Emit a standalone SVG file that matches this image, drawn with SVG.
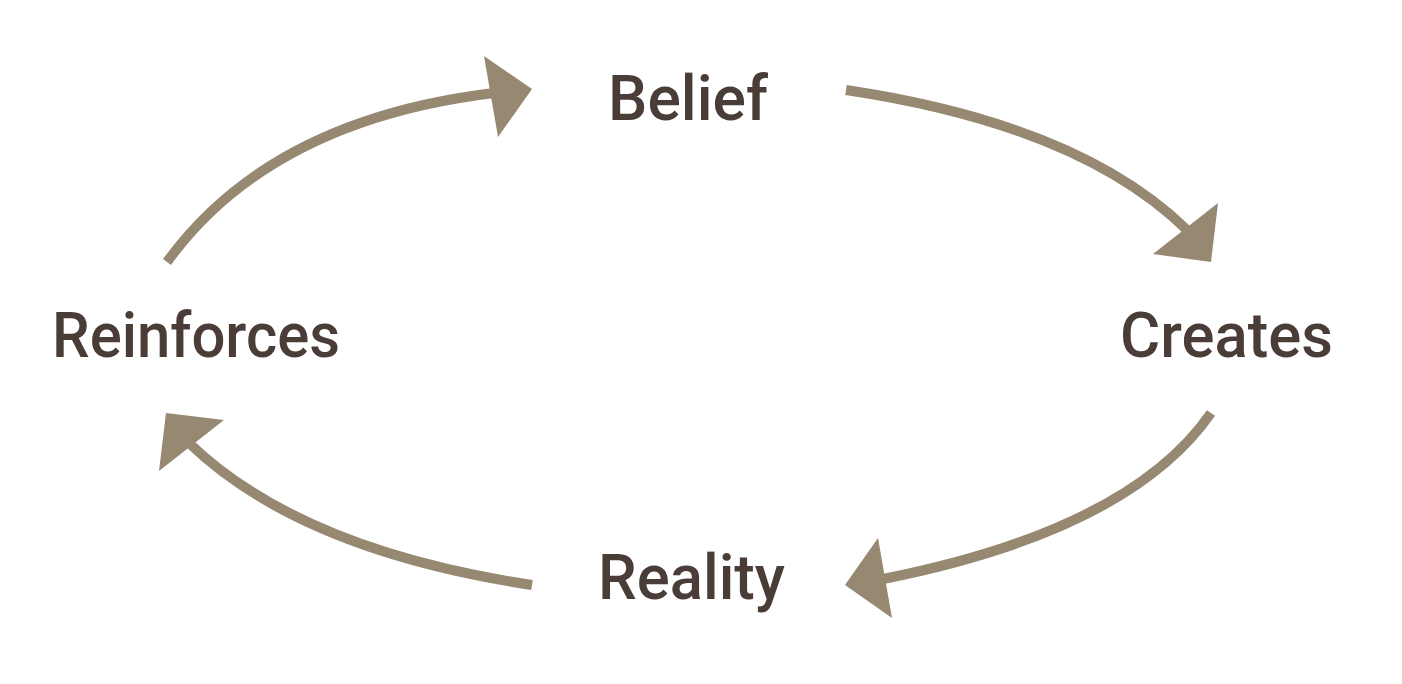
<svg xmlns="http://www.w3.org/2000/svg" width="1402" height="684" viewBox="0 0 1402 684">
<style>
.lbl{font-family:Roboto,"Liberation Sans",sans-serif;font-weight:500;font-size:63px;fill:#4a3d38}
.con{fill:none;stroke:#978872;stroke-width:10}
.head{fill:#978872}
</style>
<rect width="1402" height="684" fill="#ffffff"/>
<g id="connectors">
<path class="con" d="M167,262 Q270,120 494,93"/>
<polygon class="head" points="484,56 532,89 498,137"/>
<path class="con" d="M846,90 Q1080,125 1187,230"/>
<polygon class="head" points="1218,203 1211,262 1153,254"/>
<path class="con" d="M1211,413 Q1130,530 883,579"/>
<polygon class="head" points="878,538 845,585 892,618"/>
<path class="con" d="M532,585 Q300,550 189,443"/>
<polygon class="head" points="166,413 224,420 159,471"/>
</g>
<g id="belief"><text class="lbl" x="608" y="120" textLength="160" lengthAdjust="spacingAndGlyphs">Belief</text></g>
<g id="creates"><text class="lbl" x="1120" y="357" textLength="213" lengthAdjust="spacingAndGlyphs">Creates</text></g>
<g id="reality"><text class="lbl" x="598" y="599" textLength="187" lengthAdjust="spacingAndGlyphs">Reality</text></g>
<g id="reinforces"><text class="lbl" x="52" y="357" textLength="288" lengthAdjust="spacingAndGlyphs">Reinforces</text></g>
</svg>
